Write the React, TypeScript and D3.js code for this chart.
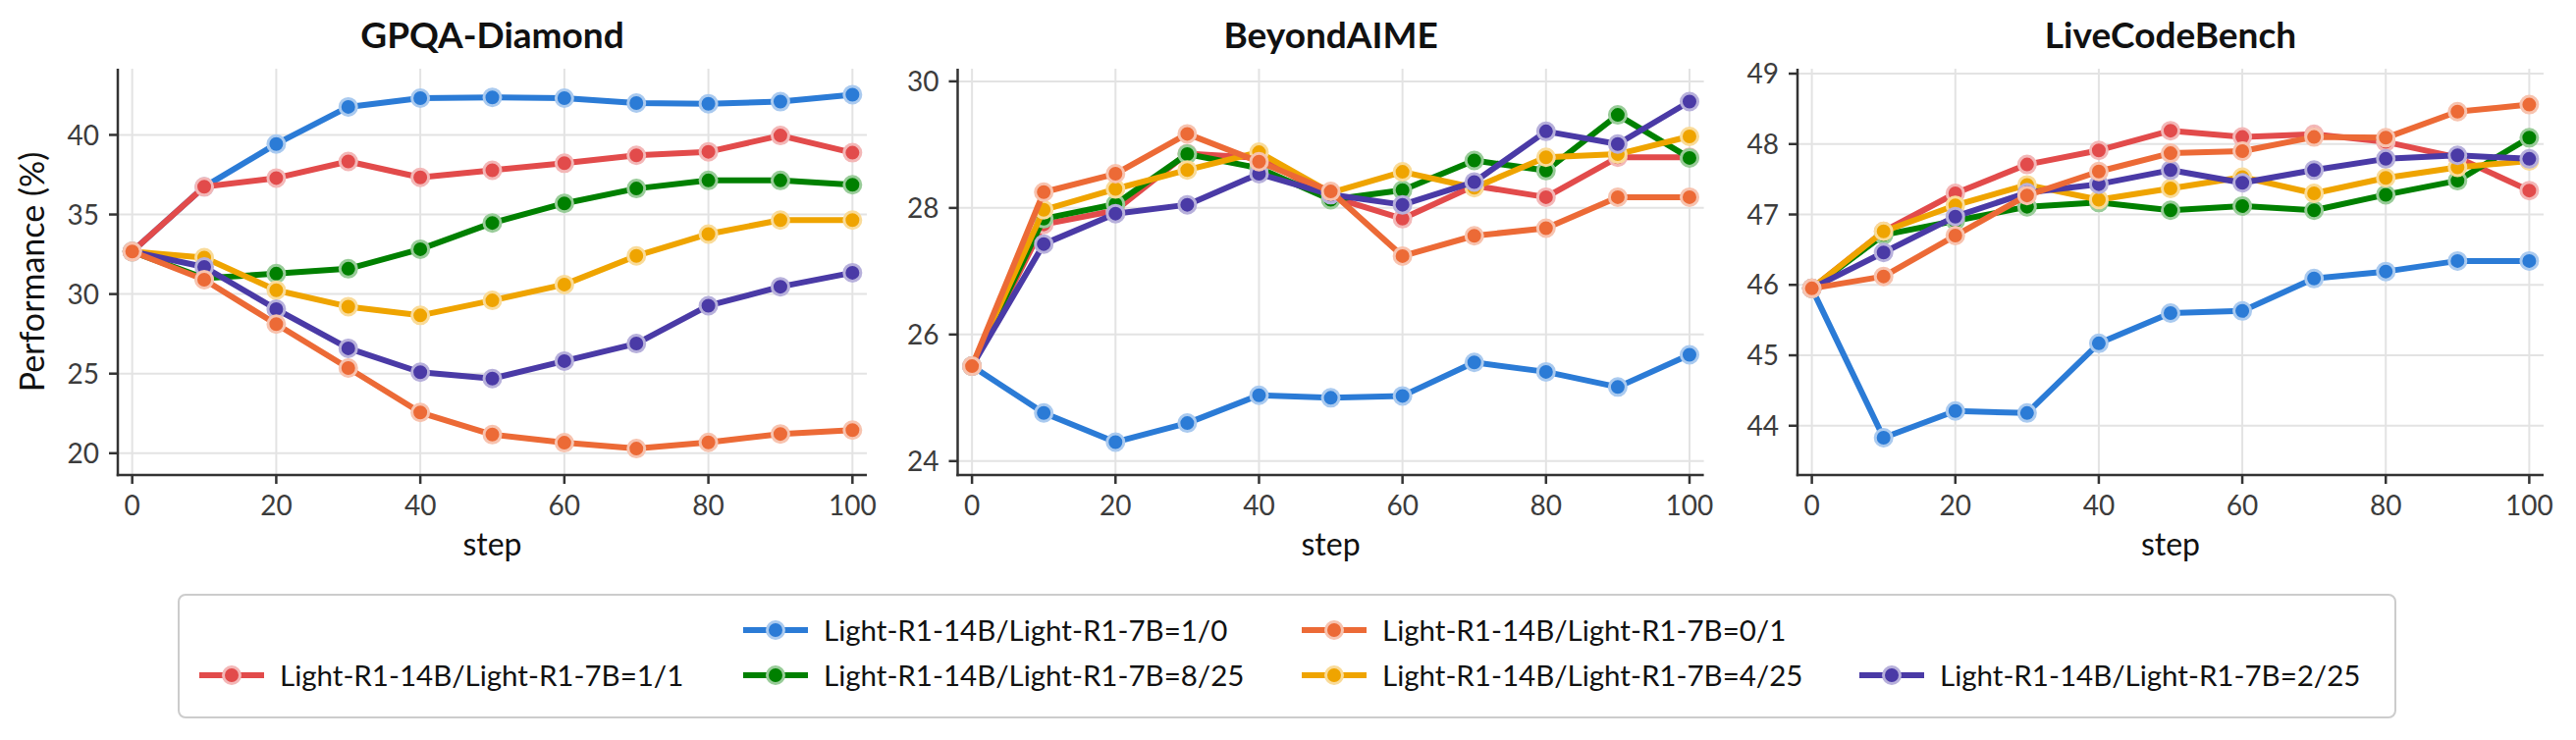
import React from 'react';
import * as d3 from 'd3';

const steps = [0, 10, 20, 30, 40, 50, 60, 70, 80, 90, 100];
const xTicks = [0, 20, 40, 60, 80, 100];

// GPQA-Diamond
const gpqa11 = [32.67, 36.74, 37.29, 38.33, 37.33, 37.78, 38.22, 38.72, 38.94, 39.96, 38.88];
const gpqa10 = [32.67, 36.74, 39.43, 41.76, 42.31, 42.36, 42.31, 42.0, 41.96, 42.09, 42.53];
const gpqa825 = [32.67, 31.0, 31.28, 31.59, 32.82, 34.47, 35.7, 36.63, 37.14, 37.14, 36.87];
const gpqa01 = [32.67, 30.9, 28.11, 25.35, 22.56, 21.17, 20.66, 20.29, 20.68, 21.21, 21.45];
const gpqa425 = [32.67, 32.29, 30.24, 29.21, 28.66, 29.6, 30.6, 32.4, 33.77, 34.65, 34.65];
const gpqa225 = [32.67, 31.7, 29.05, 26.59, 25.09, 24.69, 25.79, 26.89, 29.27, 30.46, 31.34];

// BeyondAIME
const aime11 = [25.5, 27.74, 27.96, 28.86, 28.79, 28.18, 27.83, 28.35, 28.17, 28.8, 28.8];
const aime10 = [25.5, 24.76, 24.3, 24.6, 25.04, 25.0, 25.03, 25.56, 25.41, 25.17, 25.68];
const aime825 = [25.5, 27.83, 28.06, 28.85, 28.63, 28.13, 28.28, 28.75, 28.59, 29.47, 28.79];
const aime01 = [25.5, 28.25, 28.54, 29.17, 28.73, 28.26, 27.24, 27.56, 27.68, 28.17, 28.17];
const aime425 = [25.5, 27.97, 28.3, 28.6, 28.88, 28.24, 28.57, 28.32, 28.8, 28.85, 29.13];
const aime225 = [25.5, 27.43, 27.91, 28.05, 28.54, 28.21, 28.05, 28.41, 29.21, 29.01, 29.68];

// LiveCodeBench
const lcb11 = [45.95, 46.76, 47.3, 47.71, 47.91, 48.19, 48.1, 48.14, 48.03, 47.81, 47.34];
const lcb10 = [45.95, 43.83, 44.21, 44.18, 45.17, 45.6, 45.63, 46.09, 46.19, 46.34, 46.34];
const lcb825 = [45.95, 46.71, 46.91, 47.11, 47.17, 47.06, 47.12, 47.06, 47.28, 47.48, 48.09];
const lcb01 = [45.95, 46.12, 46.7, 47.27, 47.61, 47.87, 47.9, 48.1, 48.09, 48.46, 48.56];
const lcb425 = [45.95, 46.76, 47.13, 47.42, 47.21, 47.37, 47.53, 47.3, 47.52, 47.67, 47.76];
const lcb225 = [45.95, 46.46, 46.97, 47.31, 47.43, 47.63, 47.45, 47.63, 47.79, 47.84, 47.79];

const seriesNames = [
  'Light-R1-14B/Light-R1-7B=1/1',
  'Light-R1-14B/Light-R1-7B=1/0',
  'Light-R1-14B/Light-R1-7B=8/25',
  'Light-R1-14B/Light-R1-7B=0/1',
  'Light-R1-14B/Light-R1-7B=4/25',
  'Light-R1-14B/Light-R1-7B=2/25',
];
const seriesColors = ['#e24b4b', '#2b7bd6', '#008000', '#ec6a36', '#efa400', '#4a3aa6'];
// order in which the lines are stacked (last on top)
const drawOrder = [1, 0, 2, 4, 5, 3];

const panels = [
  { title: 'GPQA-Diamond', left: 120, right: 883, yDomain: [18.63, 44.16], yTicks: [20, 25, 30, 35, 40], data: [gpqa11, gpqa10, gpqa825, gpqa01, gpqa425, gpqa225], yLabel: true },
  { title: 'BeyondAIME', left: 975.5, right: 1735.6, yDomain: [23.78, 30.2], yTicks: [24, 26, 28, 30], data: [aime11, aime10, aime825, aime01, aime425, aime225], yLabel: false },
  { title: 'LiveCodeBench', left: 1831, right: 2591, yDomain: [43.3, 49.07], yTicks: [44, 45, 46, 47, 48, 49], data: [lcb11, lcb10, lcb825, lcb01, lcb425, lcb225], yLabel: false },
];

// legend slots: [series index, column, row]
const legendSlots = [
  [0, 0, 1],
  [1, 1, 0],
  [2, 1, 1],
  [3, 2, 0],
  [4, 2, 1],
  [5, 3, 1],
];
const legendColX = [203, 757, 1326, 1894];
const legendRowY = [642, 688];

const TOP = 70;
const BOTTOM = 484;
const FONT = 'Lato, "Noto Sans", sans-serif';
const light = (c: string) => d3.interpolateRgb(c, '#ffffff')(0.6);

const Panel = ({ p }: { p: typeof panels[number] }) => {
  const x = d3.scaleLinear().domain([-2, 102]).range([p.left, p.right]);
  const y = d3.scaleLinear().domain(p.yDomain).range([BOTTOM, TOP]);
  const line = d3.line<number>()
    .x((_, i) => x(steps[i]))
    .y(d => y(d));
  const cx = (p.left + p.right) / 2;

  return (
    <g>
      {/* grid */}
      {xTicks.map(t => (
        <line key={`gx-${t}`} x1={x(t)} x2={x(t)} y1={TOP} y2={BOTTOM} stroke="#e3e3e3" strokeWidth={2} />
      ))}
      {p.yTicks.map(t => (
        <line key={`gy-${t}`} x1={p.left} x2={p.right} y1={y(t)} y2={y(t)} stroke="#e3e3e3" strokeWidth={2} />
      ))}

      {/* lines and markers */}
      {drawOrder.map(si => (
        <g key={`s-${si}`}>
          <path d={line(p.data[si]) || ''} fill="none" stroke={seriesColors[si]} strokeWidth={6} strokeLinejoin="round" />
          {p.data[si].map((v, i) => (
            <circle key={i} cx={x(steps[i])} cy={y(v)} r={8.5} fill={seriesColors[si]} stroke={light(seriesColors[si])} strokeWidth={3} />
          ))}
        </g>
      ))}

      {/* spines */}
      <line x1={p.left} x2={p.left} y1={TOP} y2={BOTTOM + 1.2} stroke="#333" strokeWidth={2.5} />
      <line x1={p.left - 1.2} x2={p.right} y1={BOTTOM} y2={BOTTOM} stroke="#333" strokeWidth={2.5} />

      {/* ticks */}
      {xTicks.map(t => (
        <g key={`xt-${t}`}>
          <line x1={x(t)} x2={x(t)} y1={BOTTOM} y2={BOTTOM + 9} stroke="#333" strokeWidth={2.5} />
          <text x={x(t)} y={BOTTOM + 41} textAnchor="middle" fontFamily={FONT} fontSize={28} fill="#3c3c3c">{t}</text>
        </g>
      ))}
      {p.yTicks.map(t => (
        <g key={`yt-${t}`}>
          <line x1={p.left - 9} x2={p.left} y1={y(t)} y2={y(t)} stroke="#333" strokeWidth={2.5} />
          <text x={p.left - 19} y={y(t)} dy="0.36em" textAnchor="end" fontFamily={FONT} fontSize={28} fill="#3c3c3c">{t}</text>
        </g>
      ))}

      <text x={cx} y={49} textAnchor="middle" fontFamily={FONT} fontWeight="bold" fontSize={37} fill="#111">{p.title}</text>
      <text x={cx} y={566} textAnchor="middle" fontFamily={FONT} fontSize={32} fill="#111">step</text>
      {p.yLabel && (
        <text transform={`translate(45,${(TOP + BOTTOM) / 2}) rotate(-90)`} textAnchor="middle" fontFamily={FONT} fontSize={34} fill="#111">
          Performance (%)
        </text>
      )}
    </g>
  );
};

const App = () => {
  return (
    <div style={{ position: 'absolute', left: 0, top: 0 }}>
      <svg width={2624} height={754} viewBox="0 0 2624 754" style={{ display: 'block', background: '#fff' }}>
        {panels.map(p => <Panel key={p.title} p={p} />)}

        {/* legend */}
        <rect x={182} y={606} width={2258} height={125} rx={7} fill="#fff" stroke="#cccccc" strokeWidth={2} />
        {legendSlots.map(([si, col, row]) => {
          const x0 = legendColX[col];
          const yy = legendRowY[row];
          return (
            <g key={`lg-${si}`}>
              <line x1={x0} x2={x0 + 66} y1={yy} y2={yy} stroke={seriesColors[si]} strokeWidth={6} />
              <circle cx={x0 + 33} cy={yy} r={8.5} fill={seriesColors[si]} stroke={light(seriesColors[si])} strokeWidth={3} />
              <text x={x0 + 82} y={yy} dy="0.36em" fontFamily={FONT} fontSize={29.5} fill="#111">{seriesNames[si]}</text>
            </g>
          );
        })}
      </svg>
    </div>
  );
};

export default App;
